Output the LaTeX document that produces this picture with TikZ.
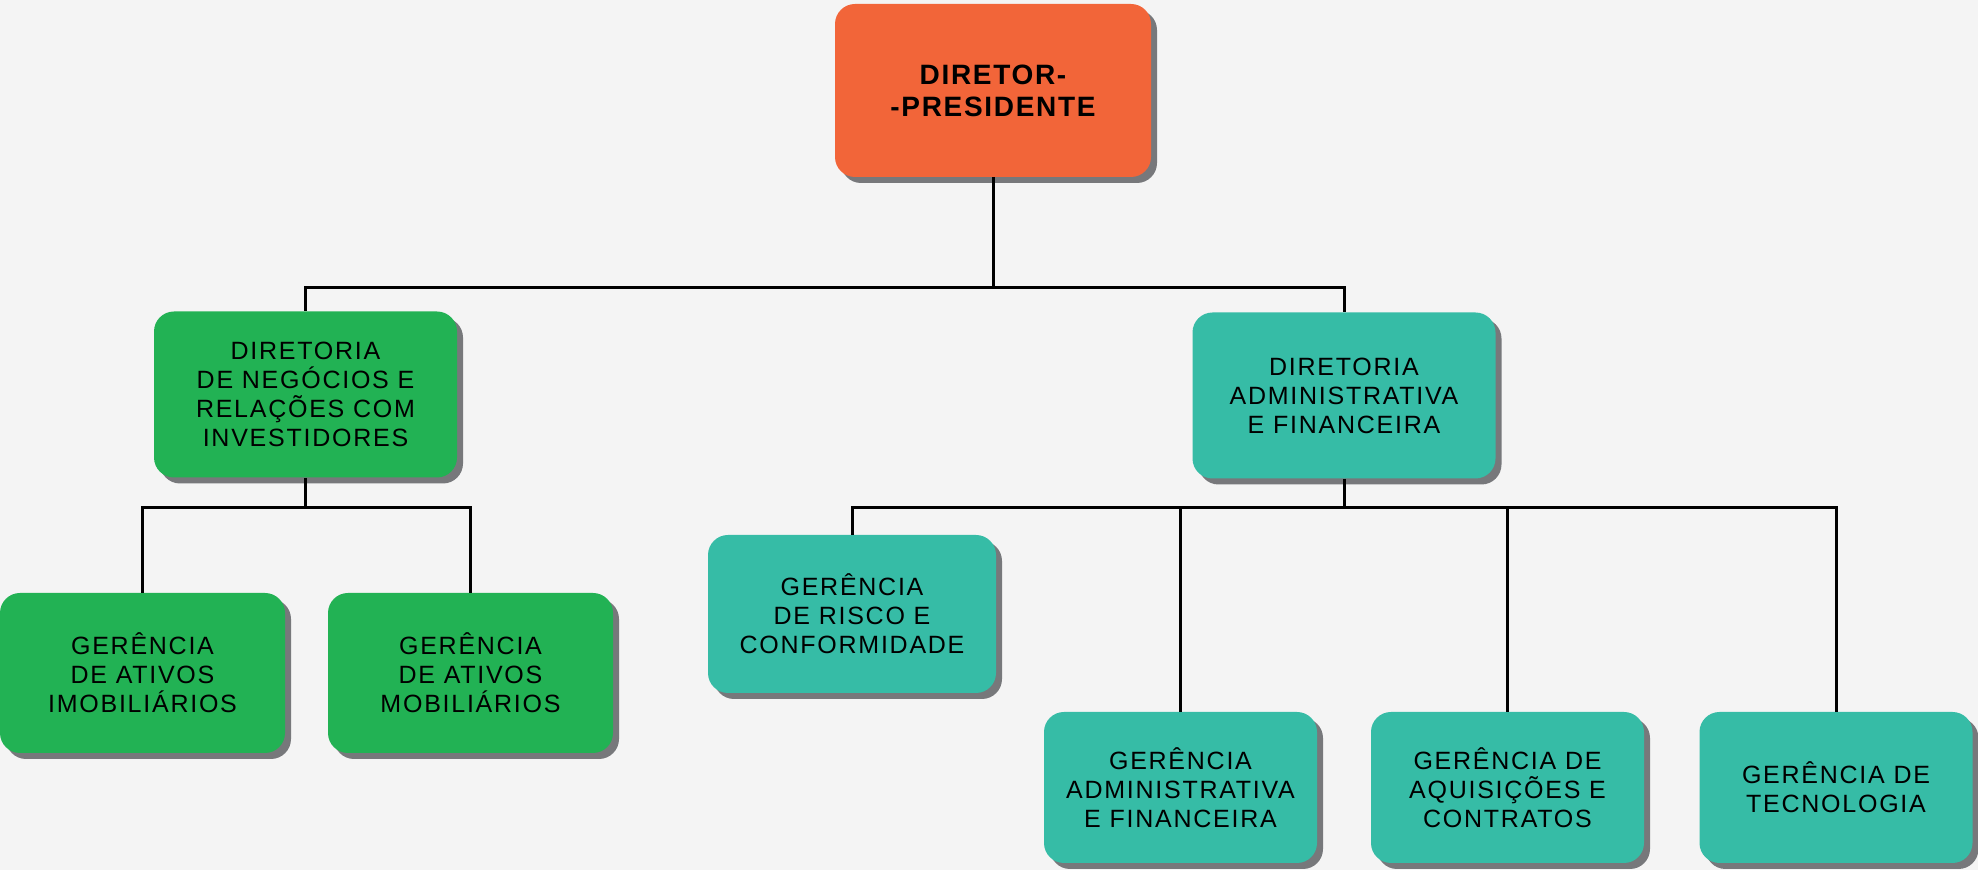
\documentclass[tikz,border=0pt]{standalone}
\usepackage{fontspec}
\setmainfont{Liberation Sans}[LetterSpace=7]
\newfontfamily\titlefont{Liberation Sans}[LetterSpace=6]
\usetikzlibrary{shadows}
\definecolor{sfondo}{HTML}{F4F4F4}
\definecolor{arancio}{HTML}{F26539}
\definecolor{verde}{HTML}{22B254}
\definecolor{turchese}{HTML}{36BCA6}
\definecolor{ombra}{HTML}{77787B}

\begin{document}
\begin{tikzpicture}[x=0.5pt, y=-0.5pt,
    box/.style={rounded corners=10pt, inner sep=0pt, align=center,
        font=\fontsize{12.5}{14.5}\selectfont,
        drop shadow={shadow xshift=3pt, shadow yshift=-3pt, fill=ombra, opacity=1}},
    dir/.style={box, minimum width=151.5pt, minimum height=83pt},
    ger/.style={box, minimum width=142.5pt, minimum height=80pt},
    gerb/.style={box, minimum width=136.5pt, minimum height=75.5pt},
    link/.style={line width=1.5pt}]

    % Sfondo
    \useasboundingbox (0,0) rectangle (1978,870);
    \fill[sfondo] (0,0) rectangle (1978,870);

    % Vertice
    \node[box, fill=arancio, minimum width=158pt, minimum height=86.5pt,
        font=\titlefont\bfseries\fontsize{14}{16}\selectfont] (pres) at (993,90.5) {DIRETOR-\\-PRESIDENTE};

    % Diretorie
    \node[dir, fill=verde] (dneg) at (305.5,394.5) {DIRETORIA\\DE NEGÓCIOS E\\RELAÇÕES COM\\INVESTIDORES};
    \node[dir, fill=turchese] (dadm) at (1344,395.5) {DIRETORIA\\ADMINISTRATIVA\\E FINANCEIRA};

    % Gerenze
    \node[ger, fill=verde] (gimo) at (142.5,673) {GERÊNCIA\\DE ATIVOS\\IMOBILIÁRIOS};
    \node[ger, fill=verde] (gmob) at (470.5,673) {GERÊNCIA\\DE ATIVOS\\MOBILIÁRIOS};
    \node[ger, fill=turchese, minimum width=144pt, minimum height=79pt] (grisco) at (852,614) {GERÊNCIA\\DE RISCO E\\CONFORMIDADE};
    \node[gerb, fill=turchese] (gadm) at (1180.5,787.5) {GERÊNCIA\\ADMINISTRATIVA\\E FINANCEIRA};
    \node[gerb, fill=turchese] (gaq) at (1507.5,787.5) {GERÊNCIA DE\\AQUISIÇÕES E\\CONTRATOS};
    \node[gerb, fill=turchese] (gtec) at (1836,787.5) {GERÊNCIA DE\\TECNOLOGIA};

    % Collegamenti
    \coordinate (busA) at (993,288);
    \coordinate (busB) at (305.5,508);
    \coordinate (busC) at (1344,508);

    \draw[link] (pres.south) -- (busA);
    \draw[link] (busA) -| (dneg.north);
    \draw[link] (busA) -| (dadm.north);

    \draw[link] (dneg.south) -- (busB);
    \draw[link] (busB) -| (gimo.north);
    \draw[link] (busB) -| (gmob.north);

    \draw[link] (dadm.south) -- (busC);
    \foreach \g in {grisco, gadm, gaq, gtec}
        \draw[link] (busC) -| (\g.north);
\end{tikzpicture}
\end{document}
